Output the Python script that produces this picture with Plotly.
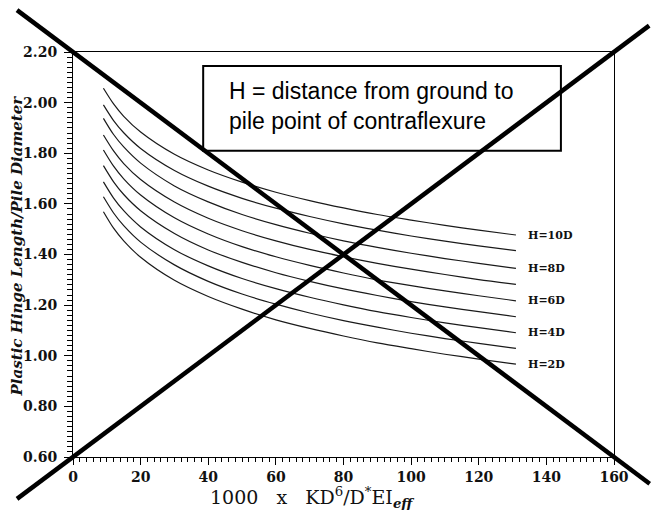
import plotly.graph_objects as go

# x positions along the curves (1000 x KD^6/D*EI_eff)
x_vals = [9, 12, 15, 20, 30, 40, 50, 60, 70, 80, 90, 100, 110, 120, 131]

# Plastic hinge length / pile diameter
h10 = [2.057, 1.995, 1.946, 1.884, 1.796, 1.734, 1.686, 1.646, 1.613, 1.584, 1.558, 1.536, 1.515, 1.496, 1.477]
h9 = [1.991, 1.929, 1.881, 1.819, 1.732, 1.670, 1.622, 1.583, 1.550, 1.521, 1.496, 1.473, 1.453, 1.434, 1.415]
h8 = [1.938, 1.874, 1.825, 1.761, 1.671, 1.608, 1.558, 1.518, 1.484, 1.454, 1.428, 1.405, 1.384, 1.365, 1.345]
h7 = [1.872, 1.809, 1.759, 1.696, 1.607, 1.543, 1.494, 1.454, 1.420, 1.391, 1.365, 1.342, 1.321, 1.301, 1.282]
h6 = [1.813, 1.749, 1.699, 1.635, 1.545, 1.481, 1.431, 1.391, 1.357, 1.327, 1.300, 1.277, 1.256, 1.237, 1.217]
h5 = [1.751, 1.687, 1.637, 1.573, 1.483, 1.418, 1.369, 1.328, 1.294, 1.264, 1.238, 1.214, 1.193, 1.174, 1.154]
h4 = [1.687, 1.623, 1.573, 1.509, 1.419, 1.355, 1.305, 1.265, 1.231, 1.201, 1.174, 1.151, 1.130, 1.111, 1.091]
h3 = [1.628, 1.564, 1.514, 1.449, 1.359, 1.294, 1.244, 1.204, 1.169, 1.139, 1.113, 1.089, 1.068, 1.049, 1.029]
h2 = [1.569, 1.504, 1.454, 1.389, 1.298, 1.234, 1.184, 1.142, 1.108, 1.078, 1.051, 1.028, 1.006, 0.987, 0.967]

series = [("H=10D", h10), ("H=9D", h9), ("H=8D", h8), ("H=7D", h7), ("H=6D", h6),
          ("H=5D", h5), ("H=4D", h4), ("H=3D", h3), ("H=2D", h2)]
labelled = ["H=10D", "H=8D", "H=6D", "H=4D", "H=2D"]

y_ticks = [0.60, 0.80, 1.00, 1.20, 1.40, 1.60, 1.80, 2.00, 2.20]
x_ticks = [0, 20, 40, 60, 80, 100, 120, 140, 160]

serif = "DejaVu Serif"

fig = go.Figure()
for name, ys in series:
    fig.add_trace(go.Scatter(x=x_vals, y=ys, mode="lines", name=name,
                             line=dict(color="#1a1a1a", width=1.2, shape="spline", smoothing=0.8),
                             showlegend=False, hoverinfo="skip"))

for name, ys in series:
    if name in labelled:
        fig.add_annotation(x=134, y=ys[-1], xref="x", yref="y", text=name, showarrow=False,
                           xanchor="left", yanchor="middle",
                           font=dict(family=serif, size=11, color="#111", weight="bold"))

# info box
fig.add_shape(type="rect", xref="x", yref="y", x0=38.5, x1=144.3, y0=1.81, y1=2.145,
              line=dict(color="black", width=2), fillcolor="white", layer="above")
fig.add_annotation(x=45.5, y=1.985, xref="x", yref="y",
                   text="H = distance from ground to<br>pile point of contraflexure",
                   showarrow=False, xanchor="left", yanchor="middle", align="left",
                   font=dict(family="Liberation Sans", size=23, color="black"))

# big cross over the figure
fig.add_shape(type="line", xref="paper", yref="paper", x0=-0.1035, y0=1.1035, x1=1.066, y1=-0.066,
              line=dict(color="black", width=4.5), layer="above")
fig.add_shape(type="line", xref="paper", yref="paper", x0=-0.1035, y0=-0.1035, x1=1.065, y1=1.065,
              line=dict(color="black", width=4.5), layer="above")

# axis titles
fig.add_annotation(x=-0.1035, y=0.52, xref="paper", yref="paper",
                   text="<i>Plastic Hinge Length/Pile Diameter</i>", textangle=-90,
                   showarrow=False, xanchor="center", yanchor="middle",
                   font=dict(family=serif, size=15, color="#111", weight="bold"))
fig.add_annotation(x=0.249, y=-0.101, xref="paper", yref="paper",
                   text="1000   x   KD<sup>6</sup>/D<sup>*</sup>EI<sub><b><i>eff</i></b></sub>",
                   showarrow=False, xanchor="left", yanchor="middle",
                   font=dict(family=serif, size=19, color="#111"))

axis_common = dict(showline=True, linecolor="black", linewidth=1, mirror=True,
                   showgrid=False, zeroline=False, ticks="outside", tickcolor="black",
                   tickfont=dict(family=serif, size=14, color="#111", weight="bold"))

fig.update_xaxes(range=[0, 160], tickvals=x_ticks, ticklen=7, tickwidth=1,
                 minor=dict(dtick=2, ticklen=4, ticks="outside", tickcolor="black", showgrid=False),
                 **axis_common)
fig.update_yaxes(range=[0.6, 2.2], tickvals=y_ticks, tickformat=".2f", ticklen=8, tickwidth=1,
                 ticklabelstandoff=4,
                 minor=dict(dtick=0.02, ticklen=5, ticks="outside", tickcolor="black", showgrid=False),
                 **axis_common)

# page body keeps its default 8px margin, so the figure is sized to fit the window
fig.update_layout(width=653, height=502, margin=dict(l=65, r=47, t=44, b=53),
                  paper_bgcolor="white", plot_bgcolor="white", showlegend=False)

fig.write_html("out.html")
